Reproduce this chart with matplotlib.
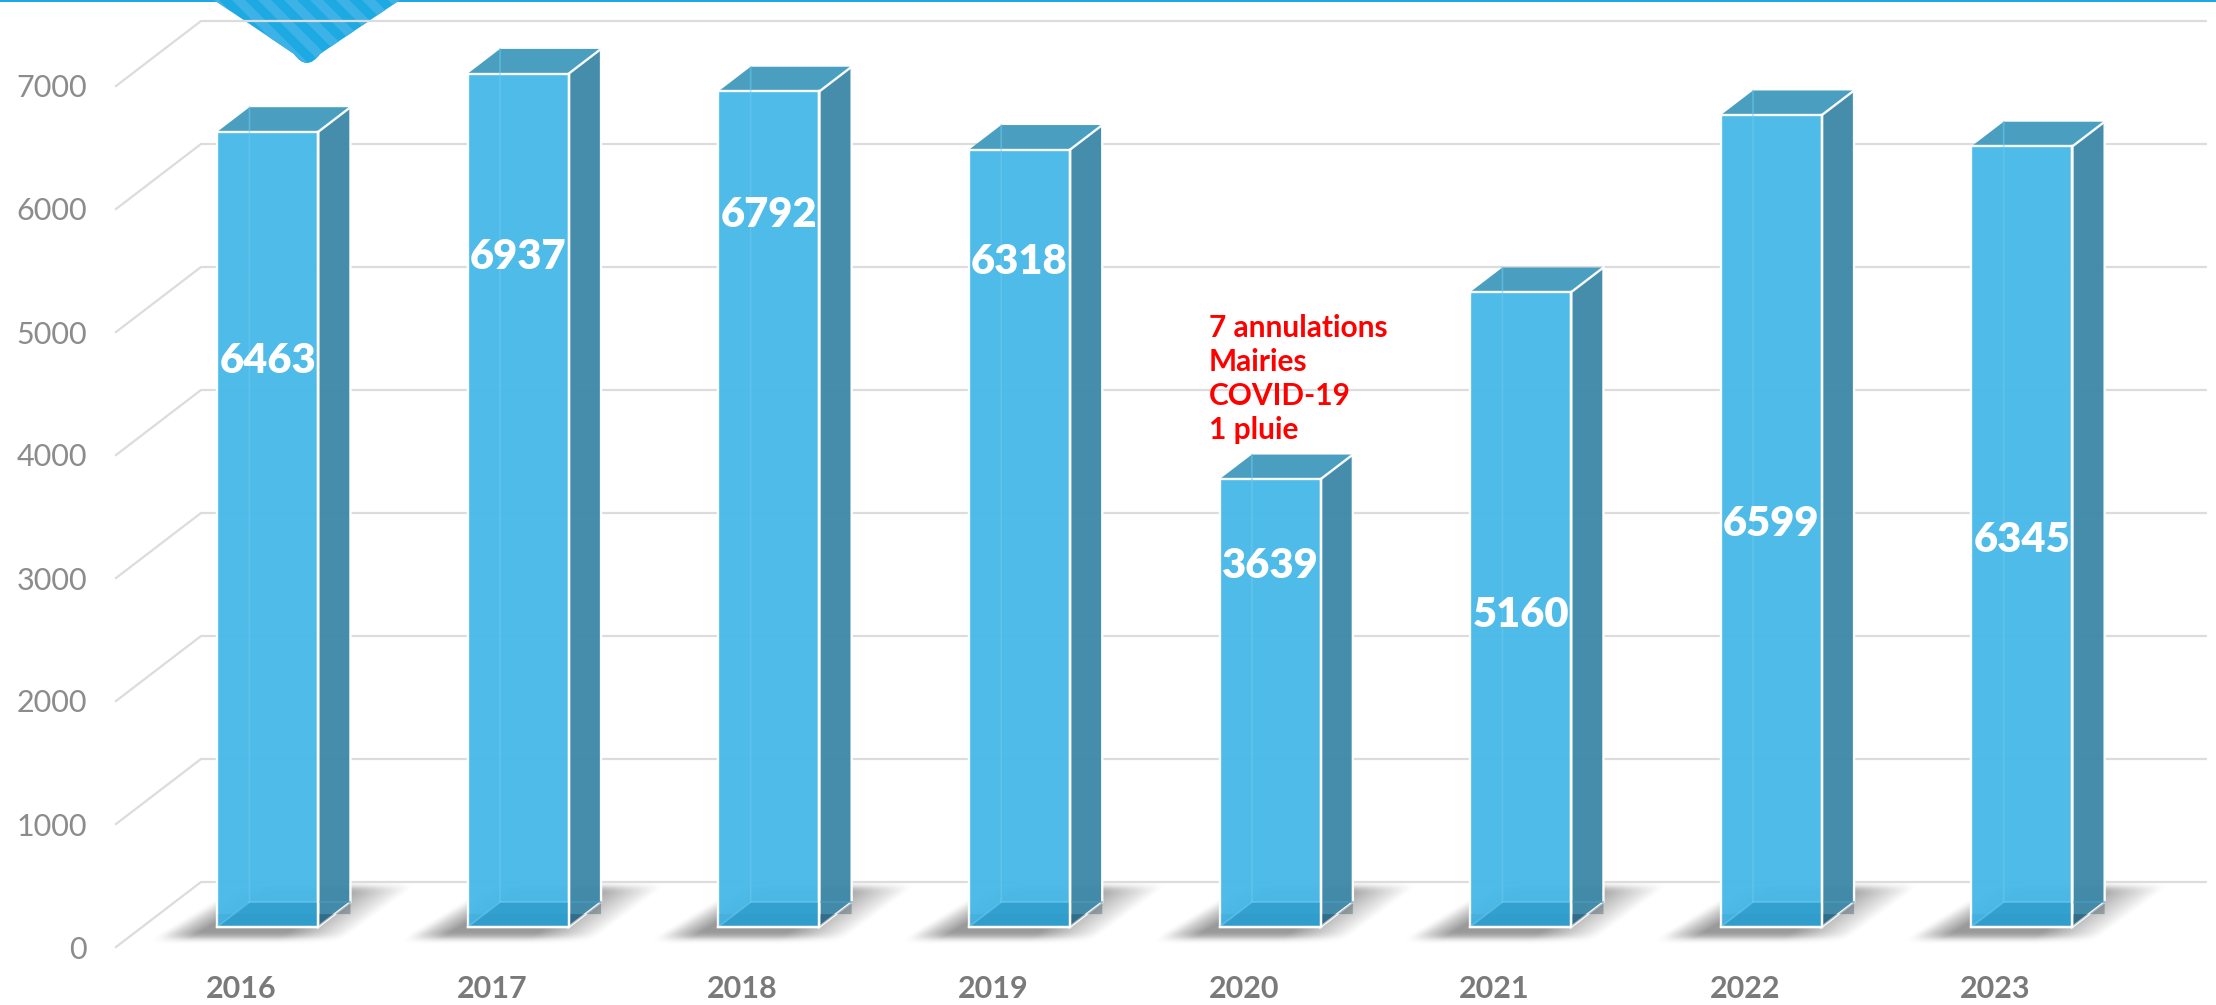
import numpy as np
import matplotlib
matplotlib.use("Agg")
import matplotlib.pyplot as plt
from matplotlib.patches import Polygon, Rectangle, PathPatch
from matplotlib.path import Path

years = ["2016", "2017", "2018", "2019", "2020", "2021", "2022", "2023"]
values = [6463, 6937, 6792, 6318, 3639, 5160, 6599, 6345]
label_frac = [0.714, 0.787, 0.854, 0.858, 0.81, 0.495, 0.499, 0.498]
y_ticks = [0, 1000, 2000, 3000, 4000, 5000, 6000, 7000]
note = "7 annulations\nMairies\nCOVID-19\n1 pluie"

W, H, DPI = 2216, 1005, 100
FONT = "Lato"
px_per_x = 250.6
px_per_v = 0.123
DX = 85 / px_per_x          # depth vector, in data units
DY = 65 / px_per_v
D_FRONT, D_BACK = 0.31, 0.69
BW = 101 / px_per_x
BLUE, SIDE, TOP = "#47b9e9", "#4089a9", "#4a9fc0"
GRID = "#dcdcdc"

fig = plt.figure(figsize=(W / DPI, H / DPI), dpi=DPI, facecolor="white")
left, right, base = 116, 116 + 8 * px_per_x + 85, 947
ax = fig.add_axes([left / W, 1 - base / H, (right - left) / W, base / H])
ax.patch.set_visible(False)
for s in ax.spines.values():
    s.set_visible(False)


def proj(x, v, d):
    return x + d * DX, v + d * DY


# soft floor shadow, built once in pixel offsets from the bar's left edge
sx0, sx1, sy0, sy1 = -110, 235, 865, 960
gx, gy = np.meshgrid(np.arange(sx0, sx1), np.arange(sy0, sy1))
t = np.clip((gy - 888) / (937 - 888), -1, 2)
lo = 20 + (-62 - 20) * t
hi = 195 + (128 - 195) * t
mask = ((gx >= lo) & (gx <= hi) & (gy >= 888) & (gy <= 937)).astype(float)
k = np.ones(11) / 11
for _ in range(3):
    mask = np.apply_along_axis(lambda r: np.convolve(r, k, "same"), 1, mask)
kv = np.ones(7) / 7
for _ in range(2):
    mask = np.apply_along_axis(lambda r: np.convolve(r, kv, "same"), 0, mask)
fade = np.clip((hi - gx) / 65, 0, 1) * np.clip((gx - lo + 4) / 40, 0, 1)
rgba = np.zeros(mask.shape + (4,))
rgba[..., :3] = 0.36
rgba[..., 3] = mask * fade * 0.62

# grid: side wall diagonals and back wall
for v in y_ticks:
    x0, v0 = proj(-0.5, v, 0)
    x1, v1 = proj(-0.5, v, 1)
    ax.plot([x0, x1, 7.5 + DX], [v0, v1, v1], color=GRID, lw=1.6, zorder=2,
            solid_joinstyle="miter", clip_on=False)

for i, v in enumerate(values):
    fx, fb = proj(i, 0, D_FRONT)
    bx, bb = proj(i, 0, D_BACK)
    xl, xr = fx - BW / 2, fx + BW / 2
    xbl, xbr = bx - BW / 2, bx + BW / 2
    ft = fb + v
    bt = bb + v

    # shadow
    ext = [xl + sx0 / px_per_x, xl + sx1 / px_per_x,
           (base - sy1) / px_per_v, (base - sy0) / px_per_v]
    ax.imshow(rgba, extent=ext, origin="upper", aspect="auto", zorder=1,
              interpolation="bilinear")

    # top and side
    ax.add_patch(Polygon([(xl, ft), (xr, ft), (xbr, bt), (xbl, bt)], closed=True,
                         fc=TOP, ec="none", zorder=3))
    ax.add_patch(Polygon([(xr, fb), (xbr, bb), (xbr, bt), (xr, ft)], closed=True,
                         fc=SIDE, ec="white", lw=1.7, alpha=0.97, zorder=3,
                         joinstyle="miter"))
    # front
    ax.bar(fx, v, width=BW, bottom=fb, color=BLUE, edgecolor="white",
           linewidth=1.7, alpha=0.96, zorder=4)

    # darker band at the foot of the bar
    band_top = bb + 12 / px_per_v * -1
    ax.add_patch(Polygon([(xl, fb), (xr, fb), (xr, band_top), (xl, band_top)],
                         closed=True, fc="#0a5a80", ec="none", alpha=0.07, zorder=5))
    ax.add_patch(Polygon([(xr, fb), (xbr, bb), (xbr, band_top), (xr, band_top)],
                         closed=True, fc="#062c40", ec="none", alpha=0.30, zorder=5))
    # floor and back edges seen through the front
    ax.add_patch(Polygon([(xl, fb), (xr, fb), (xr, bb), (xbl, bb)], closed=True,
                         fc="#1f8fbf", ec="none", alpha=0.55, zorder=5))
    ax.plot([xl, xbl, xbl], [fb, bb, bt], color="#6cc9ee", lw=1.2, alpha=0.55, zorder=6)
    ax.plot([xbl, xr], [bb, bb], color="#6cc9ee", lw=1.2, alpha=0.7, zorder=6)
    ax.plot([xr, xbr], [bb, bb], color="#4a9fc0", lw=1.2, alpha=0.7, zorder=6)
    ax.plot([xl, xr, xr], [fb, fb, ft], color="white", lw=1.7, zorder=7)

    ax.text(fx, fb + v * label_frac[i] - 2 / px_per_v, str(v), color="white", fontsize=30,
            fontweight="heavy", family=FONT, ha="center", va="center", zorder=8)

# note above the 2020 bar
nx, nb = proj(4, 0, D_FRONT)
ax.text(nx - BW / 2 - 11 / px_per_x, nb + 3639 + 35 / px_per_v, note, color="#ff0000",
        fontsize=21.5, fontweight="bold", family=FONT, ha="left", va="bottom",
        linespacing=1.27, zorder=8)

ax.set_xlim(-0.5, 7.5 + DX)
ax.set_ylim(0, base / px_per_v)
ax.set_xticks(range(len(years)), years)
ax.set_yticks(y_ticks, [str(t) for t in y_ticks])
ax.tick_params(axis="x", length=0, pad=20, labelsize=22, labelcolor="#7a7a7a")
ax.tick_params(axis="y", length=0, pad=21, labelsize=22, labelcolor="#8c8c8c")
for lab in ax.get_xticklabels():
    lab.set_fontweight("bold")
    lab.set_family(FONT)
for lab in ax.get_yticklabels():
    lab.set_family(FONT)

# page furniture: ribbon and striped chevron at the top


def P(x, y):
    return (x / W, 1 - y / H)


fig.add_artist(Rectangle(P(0, 2.5), 1, 2.5 / H, transform=fig.transFigure,
                         fc="#1daae2", ec="none", zorder=0))
verts = [P(214, 0), P(400, 0), P(320, 54), P(307, 72), P(294, 54), P(214, 0)]
codes = [Path.MOVETO, Path.LINETO, Path.LINETO, Path.CURVE3, Path.CURVE3, Path.CLOSEPOLY]
chev = PathPatch(Path(verts, codes), transform=fig.transFigure, fc="#1daae2", ec="none", zorder=0)
fig.add_artist(chev)
for x in np.arange(180, 400, 26):
    st = Polygon([P(x, 0), P(x + 13, 0), P(x + 13 + 70, 70), P(x + 70, 70)], closed=True,
                 transform=fig.transFigure, fc="#3db2e6", ec="none", zorder=0)
    fig.add_artist(st)
    st.set_clip_path(chev.get_path(), chev.get_transform())

fig.savefig("out.png", dpi=DPI)
